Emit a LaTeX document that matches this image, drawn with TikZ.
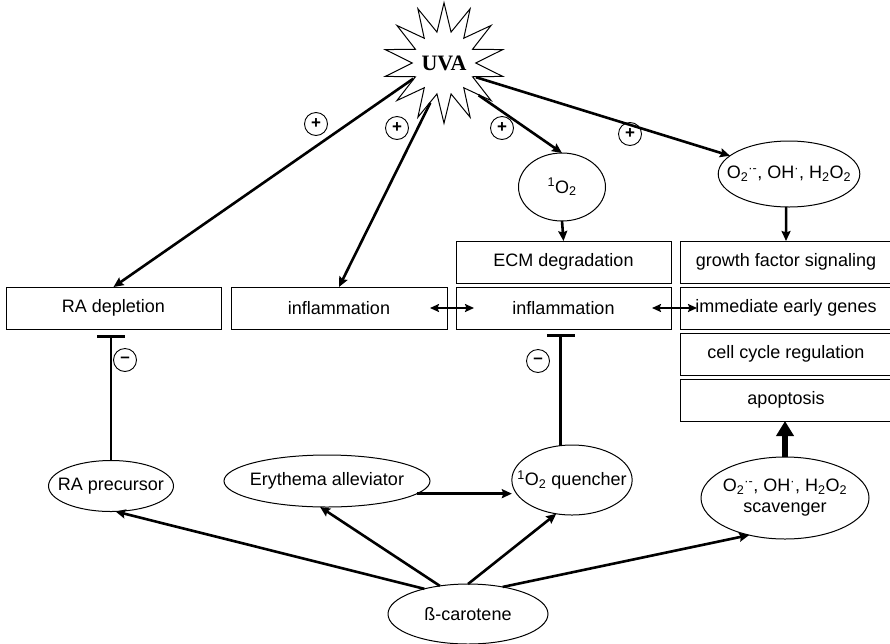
\documentclass[tikz,border=0pt]{standalone}
\usepackage{fontspec}
\setmainfont{Liberation Sans}
\newfontfamily\uvafont{Liberation Serif}
\usepackage{tikz}
\usetikzlibrary{arrows.meta,positioning,shapes.geometric}
\tikzset{
  bcbox/.style={draw,line width=1pt,minimum width=215pt,minimum height=42pt,inner sep=0pt,outer sep=0pt,font=\fontsize{18}{21}\selectfont},
  bcoval/.style={draw,ellipse,line width=1pt,inner xsep=-12pt,inner ysep=0pt,outer sep=0pt,align=center,font=\fontsize{18}{21}\selectfont},
  bcflow/.style={-{Stealth[length=10pt,width=9pt,inset=1.5pt]},line width=2.6pt},
  bcboth/.style={{Stealth[length=9pt,width=8pt,inset=1.5pt]}-{Stealth[length=9pt,width=8pt,inset=1.5pt]},line width=2.2pt},
  bcinhib/.style={-{Bar[width=28pt]},line width=2.8pt},
  bcsign/.style={circle,draw,line width=0.9pt,minimum size=23pt,inner sep=0pt,font=\bfseries\fontsize{17}{17}\selectfont},
}

\begin{document}
\begin{tikzpicture}[x=1pt,y=-1pt]
\useasboundingbox (0,0) rectangle (890,643);
% UVA and its effects, beta-carotene and its protective roles
\node[star,star points=14,star point ratio=1.9,minimum size=112pt,draw,line width=1pt,inner sep=0pt,font=\uvafont\bfseries\fontsize{22}{24}\selectfont] (uva) at (444,63) {UVA};
\node[bcbox] (radep) at (113.5,308) {RA depletion};
\node[bcbox,minimum width=216pt] (infl1) at (339,308) {inflammation};
\node[bcbox] (infl2) at (563.5,308) {inflammation};
\node[bcbox,above=4pt of infl2] (ecm) {ECM degradation};
\node[bcbox,minimum width=212pt] (ieg) at (786,308) {immediate early genes};
\node[bcbox,minimum width=212pt,above=4pt of ieg] (gfs) {growth factor signaling};
\node[bcbox,minimum width=212pt,below=4pt of ieg] (ccr) {cell cycle regulation};
\node[bcbox,minimum width=212pt,below=4pt of ccr] (apo) {apoptosis};
\node[bcoval,minimum width=87pt,minimum height=68pt] (o1) at (562,187) {\textsuperscript{1}O\textsubscript{2}};
\node[bcoval,minimum width=136pt,minimum height=66pt] (ros) at (789,174) {O\textsubscript{2}\textsuperscript{·-}, OH\textsuperscript{·}, H\textsubscript{2}O\textsubscript{2}};
\node[bcoval,minimum width=125pt,minimum height=51pt] (raprec) at (111,486) {RA precursor};
\node[bcoval,minimum width=206pt,minimum height=52pt] (eryth) at (327,481) {Erythema alleviator};
\node[bcoval,minimum width=118pt,minimum height=70pt] (quench) at (572,480) {\textsuperscript{1}O\textsubscript{2} quencher};
\node[bcoval,minimum width=168pt,minimum height=82pt] (scav) at (785,498) {O\textsubscript{2}\textsuperscript{·-}, OH\textsuperscript{·}, H\textsubscript{2}O\textsubscript{2}\\scavenger};
\node[bcoval,minimum width=160pt,minimum height=60pt] (beta) at (468,614) {ß-carotene};
\node[bcsign] (p1) at (316,124) {+};
\node[bcsign] (p2) at (397,128) {+};
\node[bcsign] (p3) at (502,128) {+};
\node[bcsign] (p4) at (630,134) {+};
\node[bcsign] (m1) at (125,360) {\raisebox{-1pt}{--}};
\node[bcsign] (m2) at (538,361) {\raisebox{-1pt}{--}};
\draw[bcflow] (uva.207) -- (radep.north);
\draw[bcflow] (uva.251) -- (infl1.north);
\draw[bcflow] (uva.317) -- (o1.north);
\draw[bcflow] (uva.336) -- (ros);
\draw[bcflow] (o1.south) -- (ecm.north);
\draw[bcflow] (ros.-95) -- (gfs.north);
\draw[bcboth] ([xshift=-17pt]infl1.east) -- ([xshift=18pt]infl2.west);
\draw[bcboth] ([xshift=-19pt]infl2.east) -- ([xshift=17pt]ieg.west);
\draw[bcinhib,shorten >=6pt] (raprec.north) -- (raprec.north |- radep.south);
\draw[bcinhib,shorten >=5pt] (quench.108) -- (quench.108 |- infl2.south);
\draw[bcflow] (eryth.-8) -- (eryth.-8 -| quench.west);
\draw[bcflow] (beta.150) -- (raprec.-80);
\draw[bcflow] (beta.135) -- (eryth.-105);
\draw[bcflow] (beta.90) -- (quench.-115);
\draw[bcflow] (beta.38) -- (scav.-134);
\draw[-{Triangle[length=15pt,width=17pt]},line width=5.5pt] (scav.north) -- (scav.north |- apo.south);
\end{tikzpicture}
\end{document}
